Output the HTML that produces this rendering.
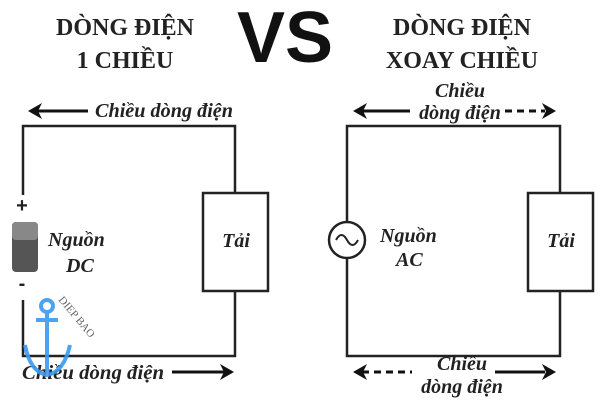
<!DOCTYPE html>
<html><head><meta charset="utf-8"><style>
html,body{margin:0;padding:0;background:#fff;}
body{width:600px;height:400px;overflow:hidden;}
svg text{font-family:"Liberation Serif",serif;fill:#222;}
</style></head><body>
<svg width="600" height="400" viewBox="0 0 600 400" xmlns="http://www.w3.org/2000/svg">
<g font-weight="bold" font-size="24" text-anchor="middle">
<text x="125" y="35">DÒNG ĐIỆN</text>
<text x="125" y="68">1 CHIỀU</text>
<text x="462" y="35">DÒNG ĐIỆN</text>
<text x="462" y="68">XOAY CHIỀU</text>
</g>
<text x="285" y="62" text-anchor="middle" font-size="72" font-weight="bold" style="font-family:'Liberation Sans',sans-serif;fill:#111">VS</text>

<g stroke="#222" stroke-width="2.5" fill="none">
<polyline points="23,195 23,126 235,126 235,193"/>
<polyline points="23,300 23,356 235,356 235,291"/>
<rect x="203" y="193" width="65" height="98" fill="#fff"/>
<polyline points="347,222 347,126 560,126 560,193"/>
<polyline points="347,258 347,356 560,356 560,291"/>
<rect x="528" y="193" width="65" height="98" fill="#fff"/>
<circle cx="347" cy="240" r="18" fill="#fff"/>
<path d="M336,240 q5.5,-10 11,0 t11,0" stroke-width="2"/>
</g>
<rect x="12" y="222" width="26" height="50" rx="4" fill="#555"/>
<rect x="12" y="222" width="26" height="18" rx="4" fill="#888"/>
<text x="22" y="212" text-anchor="middle" font-size="20" font-weight="bold" style="font-family:'Liberation Sans',sans-serif">+</text>
<text x="22" y="290" text-anchor="middle" font-size="20" font-weight="bold" style="font-family:'Liberation Sans',sans-serif">-</text>

<g font-style="italic" font-weight="bold" font-size="20">
<text x="48" y="246">Nguồn</text>
<text x="66" y="272">DC</text>
<text x="236" y="247" text-anchor="middle">Tải</text>
<text x="380" y="242">Nguồn</text>
<text x="396" y="266">AC</text>
<text x="561" y="247" text-anchor="middle">Tải</text>
<text x="95" y="117" textLength="138" lengthAdjust="spacingAndGlyphs">Chiều dòng điện</text>
<text x="22" y="379" textLength="142" lengthAdjust="spacingAndGlyphs">Chiều dòng điện</text>
<text x="460" y="97" text-anchor="middle">Chiều</text>
<text x="460" y="119" text-anchor="middle">dòng điện</text>
<text x="462" y="370" text-anchor="middle">Chiều</text>
<text x="462" y="393" text-anchor="middle">dòng điện</text>
</g>

<g stroke="#111" stroke-width="3" fill="none">
<line x1="36" y1="111" x2="88" y2="111"/>
<line x1="172" y1="372" x2="225" y2="372"/>
<line x1="362" y1="111" x2="410" y2="111"/>
<line x1="505" y1="111" x2="545" y2="111" stroke-dasharray="7,5"/>
<line x1="362" y1="372" x2="412" y2="372" stroke-dasharray="7,5"/>
<line x1="495" y1="372" x2="545" y2="372"/>
</g>
<g fill="#111">
<polygon points="28,111 42,103 38,111 42,119"/>
<polygon points="234,372 220,364 224,372 220,380"/>
<polygon points="353,111 367,103 363,111 367,119"/>
<polygon points="556,111 542,103 546,111 542,119"/>
<polygon points="353,372 367,364 363,372 367,380"/>
<polygon points="556,372 542,364 546,372 542,380"/>
</g>

<g stroke="#3a9af0" stroke-width="4" fill="none" opacity="0.9">
<circle cx="47" cy="306" r="6"/>
<line x1="47" y1="312" x2="47" y2="375"/>
<line x1="36" y1="320" x2="58" y2="320"/>
<path d="M25,345 Q30,372 47,375 Q64,372 70,345"/>
</g>
<text x="58" y="300" font-size="11" transform="rotate(50 58 300)" style="fill:#666">DIEP BAO</text>
</svg>
</body></html>
